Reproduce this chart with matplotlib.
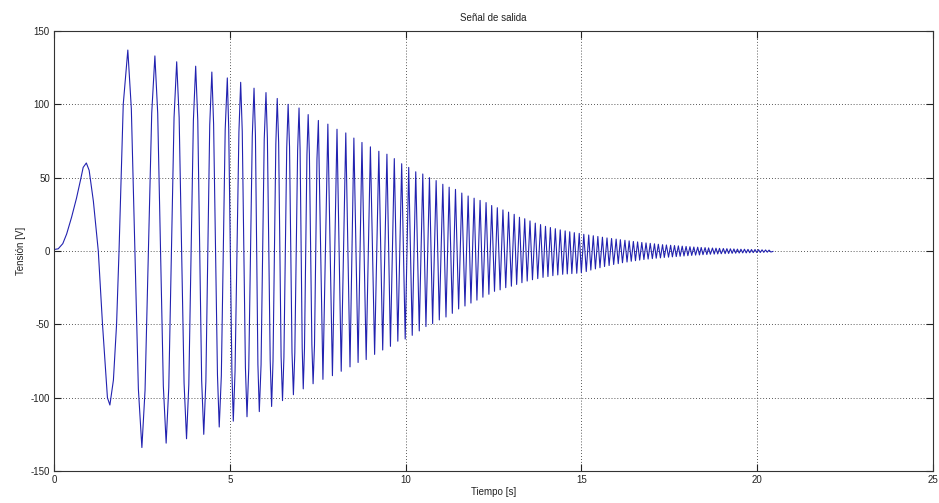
import matplotlib
matplotlib.use("Agg")
import matplotlib.pyplot as plt
import numpy as np

plt.rcParams['font.family'] = ['Liberation Sans', 'DejaVu Sans']
plt.rcParams['axes.unicode_minus'] = False

# ---- data ----
# initial smooth hump (time, value)
start_t = [0.00, 0.12, 0.25, 0.36, 0.50, 0.64, 0.76, 0.83, 0.92, 1.00, 1.12, 1.26, 1.38, 1.52]
start_v = [1.0, 1.5, 5.0, 11.6, 23.0, 36.0, 49.0, 57.0, 60.0, 55.0, 34.0, 0.0, -50.0, -100.0]

# local maxima
max_t = [2.10, 2.87, 3.49, 4.03, 4.49, 4.93, 5.31, 5.69, 6.03, 6.35,
         6.66, 6.97, 7.23, 7.52, 7.79, 8.05, 8.30, 8.53, 8.76, 9.00,
         9.24, 9.47, 9.68, 9.89, 10.09, 10.29, 10.49, 10.68, 10.87, 11.06,
         11.24, 11.42, 11.60, 11.78, 11.95, 12.12, 12.29, 12.45, 12.61, 12.77,
         12.93, 13.09, 13.24, 13.39, 13.54, 13.69, 13.84, 13.98, 14.12, 14.26,
         14.40, 14.54, 14.67, 14.80, 14.94, 15.07, 15.21, 15.34, 15.47, 15.60,
         15.73, 15.86, 15.99, 16.11, 16.24, 16.36, 16.48, 16.60, 16.72, 16.84,
         16.96, 17.08, 17.19, 17.31, 17.42, 17.54, 17.65, 17.76, 17.87, 17.98,
         18.09, 18.20, 18.31, 18.41, 18.52, 18.62, 18.73, 18.83, 18.93, 19.04,
         19.14, 19.24, 19.34, 19.44, 19.54, 19.64, 19.74, 19.84, 19.94, 20.04,
         20.14, 20.24, 20.34]
max_v = [137.0, 133.0, 129.0, 126.0, 122.0, 118.0, 115.0, 111.0, 108.0, 104.0,
         100.0, 97.5, 93.0, 89.0, 86.5, 83.0, 80.5, 77.0, 74.0, 71.0,
         68.0, 66.0, 63.0, 59.5, 57.0, 54.0, 52.5, 50.0, 48.0, 45.5,
         43.5, 42.0, 39.5, 37.5, 36.0, 34.5, 33.0, 31.0, 29.5, 28.0,
         26.5, 25.0, 23.0, 22.0, 20.5, 19.0, 18.0, 16.8, 16.0, 15.2,
         14.4, 13.7, 13.1, 12.5, 12.0, 11.4, 10.9, 10.4, 9.9, 9.4,
         8.9, 8.5, 8.1, 7.7, 7.3, 6.9, 6.5, 6.2, 5.8, 5.5,
         5.2, 4.9, 4.6, 4.3, 4.1, 3.9, 3.7, 3.5, 3.3, 3.1,
         2.9, 2.7, 2.6, 2.4, 2.3, 2.1, 2.0, 1.9, 1.8, 1.7,
         1.6, 1.5, 1.4, 1.3, 1.2, 1.2, 1.1, 1.0, 1.0, 0.9,
         0.8, 0.7, 0.6]

# local minima
min_t = [1.59, 2.50, 3.19, 3.77, 4.26, 4.70, 5.10, 5.49, 5.84, 6.19,
         6.50, 6.81, 7.09, 7.37, 7.65, 7.92, 8.17, 8.42, 8.65, 8.88,
         9.12, 9.35, 9.57, 9.78, 9.99, 10.19, 10.39, 10.58, 10.77, 10.96,
         11.15, 11.33, 11.51, 11.69, 11.86, 12.03, 12.20, 12.37, 12.53, 12.69,
         12.85, 13.01, 13.16, 13.31, 13.46, 13.61, 13.76, 13.91, 14.05, 14.19,
         14.33, 14.47, 14.60, 14.73, 14.87, 15.00, 15.14, 15.27, 15.40, 15.53,
         15.66, 15.79, 15.92, 16.05, 16.17, 16.30, 16.42, 16.54, 16.66, 16.78,
         16.90, 17.02, 17.13, 17.25, 17.36, 17.48, 17.59, 17.70, 17.81, 17.92,
         18.03, 18.14, 18.25, 18.36, 18.46, 18.57, 18.67, 18.78, 18.88, 18.98,
         19.09, 19.19, 19.29, 19.39, 19.49, 19.59, 19.69, 19.79, 19.89, 19.99,
         20.09, 20.19, 20.29, 20.39]
min_v = [-105.0, -134.0, -131.0, -128.0, -125.0, -120.0, -116.0, -113.0, -109.5, -106.0,
         -102.0, -98.0, -94.0, -90.5, -87.5, -85.0, -82.0, -79.0, -76.0, -74.0,
         -70.5, -67.5, -65.0, -61.5, -60.0, -57.5, -54.5, -51.5, -49.5, -47.0,
         -45.0, -42.5, -39.5, -37.5, -35.5, -33.5, -31.5, -29.5, -27.5, -26.5,
         -25.0, -24.0, -22.8, -21.6, -20.5, -19.6, -18.8, -18.0, -17.4, -16.8,
         -16.3, -15.9, -15.6, -15.4, -15.2, -14.8, -14.0, -13.0, -12.2, -11.4,
         -10.6, -9.9, -9.2, -8.6, -8.0, -7.5, -7.0, -6.6, -6.2, -5.8,
         -5.5, -5.2, -4.9, -4.7, -4.4, -4.2, -4.0, -3.8, -3.6, -3.4,
         -3.2, -3.0, -2.8, -2.7, -2.5, -2.4, -2.2, -2.1, -2.0, -1.9,
         -1.8, -1.7, -1.6, -1.5, -1.4, -1.3, -1.3, -1.2, -1.1, -1.0,
         -1.0, -0.9, -0.8, -0.7]

# points on the flanks of the wide early cycles
flank_t = [1.69, 1.78, 1.85, 1.97, 2.20, 2.40, 2.59, 2.78, 2.95, 3.11,
           3.265, 3.415, 3.56, 3.70, 3.835, 3.965, 4.09, 4.20, 4.32, 4.43,
           4.54, 4.65, 4.76, 4.87, 4.97, 5.06, 5.15, 5.26, 5.355, 5.445,
           5.54, 5.64, 5.73, 5.80, 5.89, 5.98, 6.07, 6.15, 6.23, 6.31,
           6.39, 6.46, 6.54, 6.62, 6.70, 6.77, 6.85, 6.93, 7.00, 7.06,
           7.125, 7.195, 7.265, 7.335, 7.41, 7.48]
flank_v = [-88.0, -50.0, 0.0, 100.0, 97.0, -94.0, -95.0, 94.0, 94.0, -92.0,
           -93.0, 91.0, 91.0, -90.0, -91.0, 89.0, 89.0, -88.0, -89.0, 86.0,
           86.5, -84.5, -85.0, 83.0, 83.5, -81.5, -82.0, 81.0, 81.5, -79.5,
           -80.0, 78.0, 78.7, -77.2, -77.6, 76.1, 76.7, -74.7, -75.0, 73.0,
           74.0, -72.0, -72.5, 70.5, 71.0, -69.0, -69.5, 68.5, 69.5, -66.0,
           -66.6, 65.6, 66.0, -63.6, -64.2, 62.7]

end_t = [20.45]
end_v = [-0.3]

xticks = [0, 5, 10, 15, 20, 25]
yticks = [-150, -100, -50, 0, 50, 100, 150]

# ---- assemble the series ----
t_all = np.array(start_t + max_t + min_t + flank_t + end_t)
v_all = np.array(start_v + max_v + min_v + flank_v + end_v)
order = np.argsort(t_all, kind="stable")
t_all = t_all[order]
v_all = v_all[order]

fig = plt.figure(figsize=(9.39, 5.03), dpi=100)
ax = fig.add_axes([0.0575, 0.0636, 0.936, 0.8748])

ax.plot(t_all, v_all, color='#2222b0', linewidth=0.8)

ax.set_xlim(0, 25)
ax.set_ylim(-150, 150)
ax.set_xticks(xticks)
ax.set_yticks(yticks)
ax.grid(True, color='#222222', linestyle=(0, (1, 2.5)), linewidth=0.6)
ax.tick_params(direction='in', length=5, width=0.8, labelsize=7,
               top=True, right=True, colors='#222222', pad=3)
for s in ax.spines.values():
    s.set_linewidth(0.8)
    s.set_color('#333333')

ax.set_title('Señal de salida', fontsize=7, pad=7, color='#222222')
ax.set_xlabel('Tiempo [s]', fontsize=7, labelpad=1, color='#222222')
ax.set_ylabel('Tensión [V]', fontsize=7, labelpad=3, color='#222222')

fig.savefig('out.png', dpi=100)
